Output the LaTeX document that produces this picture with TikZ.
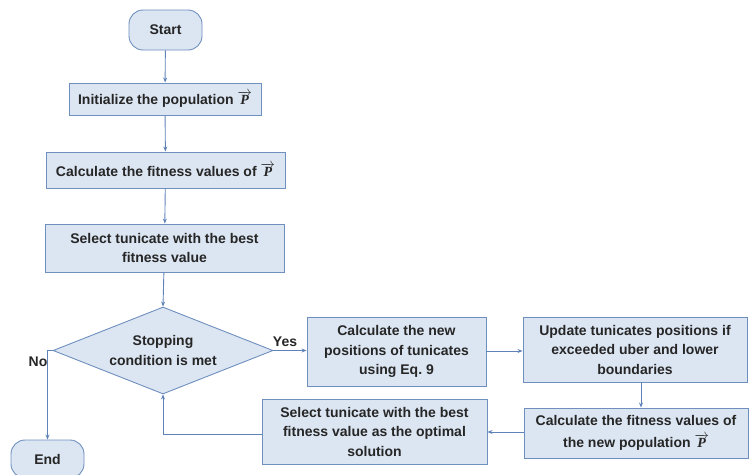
\documentclass[tikz,border=0pt]{standalone}
\usepackage{fontspec}
\setmainfont{Liberation Sans}
\newfontfamily\serifbi{Liberation Serif}
\usetikzlibrary{shapes.geometric,arrows.meta}
\definecolor{boxfill}{HTML}{DCE6F2}
\definecolor{boxline}{HTML}{6F8FBF}
\definecolor{arrline}{HTML}{5F82B8}
\newcommand\vP{$\overrightarrow{\hbox{\serifbi\bfseries\itshape P}}$}
\frenchspacing
\begin{document}
\begin{tikzpicture}[x=1pt,y=-1pt,
  every node/.style={font=\fontsize{14}{19.5}\selectfont\bfseries, text=black!85},
  procbox/.style={draw=boxline, fill=boxfill, line width=0.9pt, rectangle, inner sep=0pt, align=center},
  termbox/.style={draw=boxline, fill=boxfill, line width=0.9pt, rectangle, rounded corners=14pt, inner sep=0pt, align=center},
  decbox/.style={draw=boxline, fill=boxfill, line width=0.9pt, diamond, inner sep=0pt},
  conn/.style={draw=arrline, line width=0.9pt, -{Stealth[length=5pt,width=4pt]}}]
\useasboundingbox (0,0) rectangle (749,474);
\node[termbox, minimum width=73pt, minimum height=40pt] (start) at (165.5,30) {Start};
\node[procbox, minimum width=192pt, minimum height=32pt] (init) at (165,99) {Initialize the population \vP};
\node[procbox, minimum width=239pt, minimum height=36pt] (calc) at (165.5,170) {Calculate the fitness values of \vP};
\node[procbox, minimum width=239pt, minimum height=48pt] (sel) at (164.5,248) {Select tunicate with the best\\fitness value};
\node[decbox, minimum width=220pt, minimum height=87pt,
  label={[align=center]center:Stopping\\condition is met}] (dec) at (163,350.5) {};
\node[procbox, minimum width=179pt, minimum height=69pt] (newpos) at (396.5,351.5) {Calculate the new\\positions of tunicates\\using Eq. 9};
\node[procbox, minimum width=224pt, minimum height=65pt] (update) at (635,349.5) {Update tunicates positions if\\exceeded uber and lower\\boundaries};
\node[procbox, minimum width=224pt, minimum height=50pt, font=\fontsize{14}{22}\selectfont\bfseries] (fitnew) at (636,433) {Calculate the fitness values of\\the new population \vP};
\node[procbox, minimum width=225pt, minimum height=65pt] (selopt) at (374.5,431.5) {Select tunicate with the best\\fitness value as the optimal\\solution};
\node[termbox, minimum width=73pt, minimum height=38pt] (end) at (47.5,459) {End};
\node (yes) at (285,342) {Yes};
\node (no) at (38,362) {No};
\draw[conn] (start) -- (init);
\draw[conn] (init) -- (calc);
\draw[conn] (calc) -- (sel);
\draw[conn] (sel) -- (dec.north);
\draw[conn] (dec.east) -- (dec.east -| newpos.west);
\draw[conn] (newpos.east |- 0,351) -- (update.west |- 0,351);
\draw[conn] (update.south -| 641,0) -- (fitnew.north -| 641,0);
\draw[conn] (fitnew.west |- 0,432) -- (selopt.east |- 0,432);
\draw[conn] (selopt.west |- 0,434) -| (dec.south);
\draw[conn] (dec.west) -| (end.north);
\end{tikzpicture}
\end{document}
